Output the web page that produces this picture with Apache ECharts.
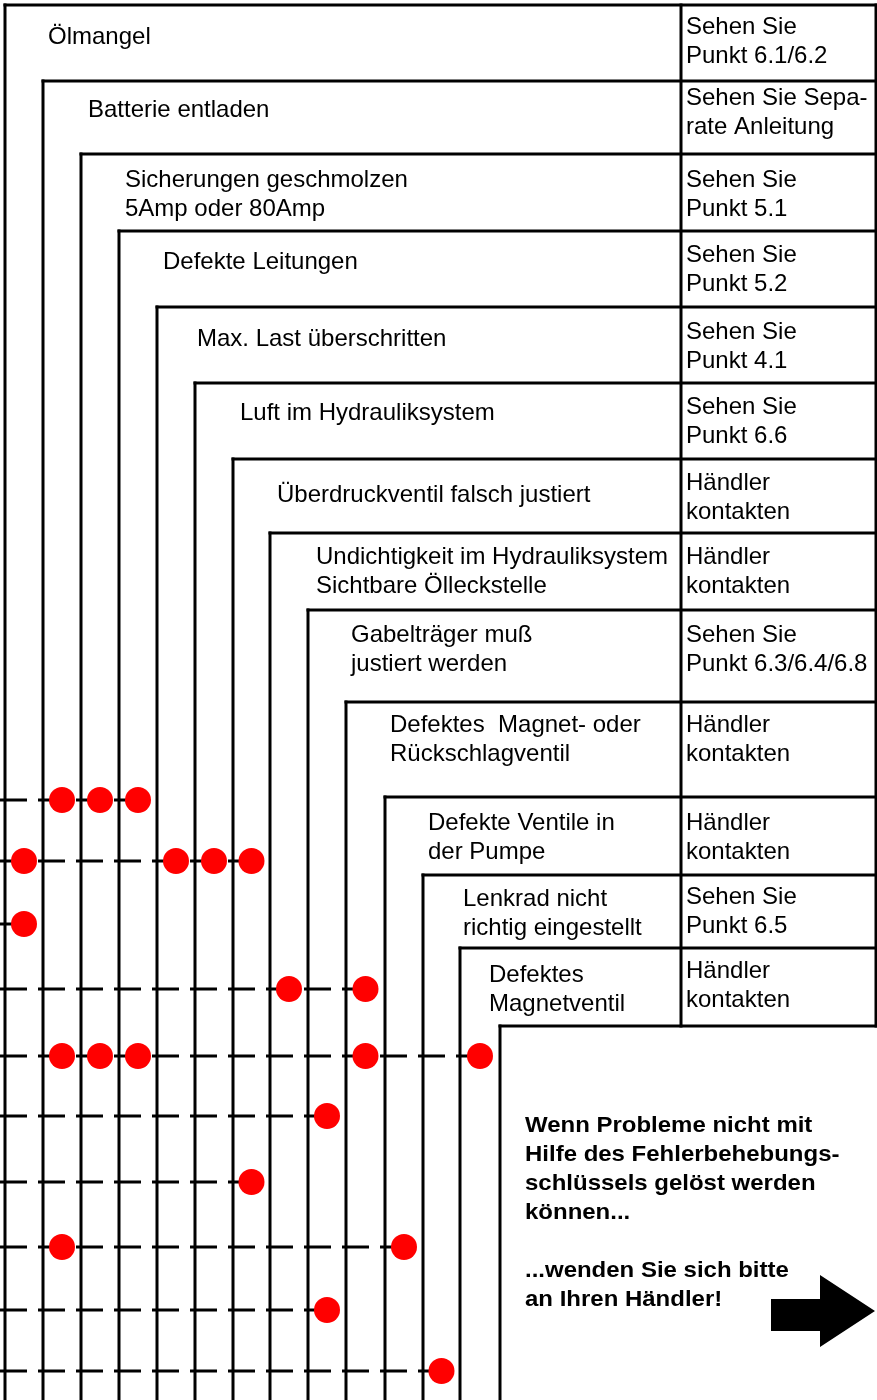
<!DOCTYPE html>
<html><head><meta charset="utf-8">
<script src="https://cdn.jsdelivr.net/npm/echarts@6/dist/echarts.min.js"></script>
<style>html,body{margin:0;padding:0;background:#fff}#c{width:877px;height:1400px}</style>
</head><body><div id="c"></div>
<script>
// ---- data ----
const causes = [
  "Ölmangel",
  "Batterie entladen",
  "Sicherungen geschmolzen\n5Amp oder 80Amp",
  "Defekte Leitungen",
  "Max. Last überschritten",
  "Luft im Hydrauliksystem",
  "Überdruckventil falsch justiert",
  "Undichtigkeit im Hydrauliksystem\nSichtbare Ölleckstelle",
  "Gabelträger muß\njustiert werden",
  "Defektes  Magnet- oder\nRückschlagventil",
  "Defekte Ventile in\nder Pumpe",
  "Lenkrad nicht\nrichtig eingestellt",
  "Defektes\nMagnetventil"
];
const actions = [
  "Sehen Sie\nPunkt 6.1/6.2",
  "Sehen Sie Sepa-\nrate Anleitung",
  "Sehen Sie\nPunkt 5.1",
  "Sehen Sie\nPunkt 5.2",
  "Sehen Sie\nPunkt 4.1",
  "Sehen Sie\nPunkt 6.6",
  "Händler\nkontakten",
  "Händler\nkontakten",
  "Sehen Sie\nPunkt 6.3/6.4/6.8",
  "Händler\nkontakten",
  "Händler\nkontakten",
  "Sehen Sie\nPunkt 6.5",
  "Händler\nkontakten"
];
// for each symptom row: indices of causes marked with a dot
const hits = [
  [1, 2, 3],
  [0, 4, 5, 6],
  [0],
  [7, 9],
  [1, 2, 3, 9, 12],
  [8],
  [6],
  [1, 10],
  [8],
  [11]
];
const noteText = "Wenn Probleme nicht mit\nHilfe des Fehlerbehebungs-\nschlüssels gelöst werden\nkönnen...\n\n...wenden Sie sich bitte\nan Ihren Händler!";

// ---- layout (axis units = pixels of the drawing) ----
const colEdge = [5, 43, 81, 119, 157, 195, 233, 270, 308, 346, 385, 423, 460, 500];
const stepTop = [5, 81, 154, 231, 307, 383, 459, 533, 610, 702, 797, 875, 948, 1026];
const rowY = [800, 861, 924, 989, 1056, 1116, 1182, 1247, 1310, 1371];
const tableX = 681, rightX = 876, bottomY = 1400;
const causeX = [48, 88, 125, 163, 197, 240, 277, 316, 351, 390, 428, 463, 489];
const causeY = [37, 110, 180, 262, 339, 413, 495, 557, 635, 725, 823, 899, 975];
const actionX = 686;
const actionY = [27, 98, 180, 255, 332, 407, 483, 557, 635, 725, 823, 897, 971];
const noteX = 525, noteY = 1126;
const arrowPts = [[771, 1299], [820, 1299], [820, 1275], [875, 1311], [820, 1347], [820, 1331], [771, 1331]];

const FONT = '"Liberation Sans", Arial, Helvetica, sans-serif';
const LH = 29;

// structural segments
const segs = [];
for (let k = 0; k < colEdge.length; k++) {
  segs.push([colEdge[k], stepTop[k], colEdge[k], bottomY]);
  segs.push([colEdge[k], stepTop[k], rightX, stepTop[k]]);
}
segs.push([tableX, stepTop[0], tableX, stepTop[stepTop.length - 1]]);
segs.push([rightX, stepTop[0], rightX, stepTop[stepTop.length - 1]]);

const mid = c => (colEdge[c] + colEdge[c + 1]) / 2;
const dots = [];
const dashes = [];
hits.forEach((cols, r) => {
  cols.forEach(c => dots.push([mid(c), rowY[r]]));
  dashes.push([0, rowY[r], mid(Math.max(...cols)), rowY[r]]);
});

function lineItem(dash) {
  return function (params, api) {
    const p1 = api.coord([api.value(0), api.value(1)]);
    const p2 = api.coord([api.value(2), api.value(3)]);
    return {
      type: 'line',
      shape: { x1: p1[0], y1: p1[1], x2: p2[0], y2: p2[1] },
      style: { stroke: '#000', lineWidth: 3, lineCap: dash ? 'butt' : 'square', lineDash: dash || null }
    };
  };
}
function textItem(texts, font, extra) {
  return function (params, api) {
    const p = api.coord([api.value(0), api.value(1) - LH / 2]);
    return Object.assign({
      type: 'text', x: p[0], y: p[1],
      style: { text: texts[params.dataIndex], font: font, fill: '#000', align: 'left', verticalAlign: 'top', lineHeight: LH }
    }, extra || {});
  };
}

const chart = echarts.init(document.getElementById('c'), null, { renderer: 'canvas' });
chart.setOption({
  animation: false,
  backgroundColor: '#fff',
  grid: { left: 0, right: 0, top: 0, bottom: 0 },
  xAxis: { type: 'value', min: 0, max: 877, show: false },
  yAxis: { type: 'value', min: 0, max: 1400, inverse: true, show: false },
  series: [
    { type: 'custom', name: 'frame', z: 1, clip: false, data: segs,
      encode: { x: [0, 2], y: [1, 3] }, renderItem: lineItem(null) },
    { type: 'custom', name: 'rows', z: 2, clip: false, data: dashes,
      encode: { x: [0, 2], y: [1, 3] }, renderItem: lineItem([27, 11]) },
    { type: 'scatter', name: 'hits', z: 3, data: dots, symbol: 'circle', symbolSize: 26,
      itemStyle: { color: '#ff0000', opacity: 1 }, emphasis: { disabled: true } },
    { type: 'custom', name: 'causes', z: 4, clip: false,
      data: causes.map((t, i) => [causeX[i], causeY[i]]),
      renderItem: textItem(causes, '24px ' + FONT) },
    { type: 'custom', name: 'actions', z: 4, clip: false,
      data: actions.map((t, i) => [actionX, actionY[i]]),
      renderItem: textItem(actions, '24px ' + FONT) },
    { type: 'custom', name: 'note', z: 4, clip: false,
      data: [[noteX, noteY]],
      renderItem: textItem([noteText], 'bold 22px ' + FONT, { scaleX: 1.09 }) },
    { type: 'custom', name: 'arrow', z: 4, clip: false,
      data: [[arrowPts[0][0], arrowPts[0][1]]],
      renderItem: function (params, api) {
        return { type: 'polygon', shape: { points: arrowPts.map(p => api.coord(p)) }, style: { fill: '#000' } };
      } }
  ]
});
</script>
</body></html>
